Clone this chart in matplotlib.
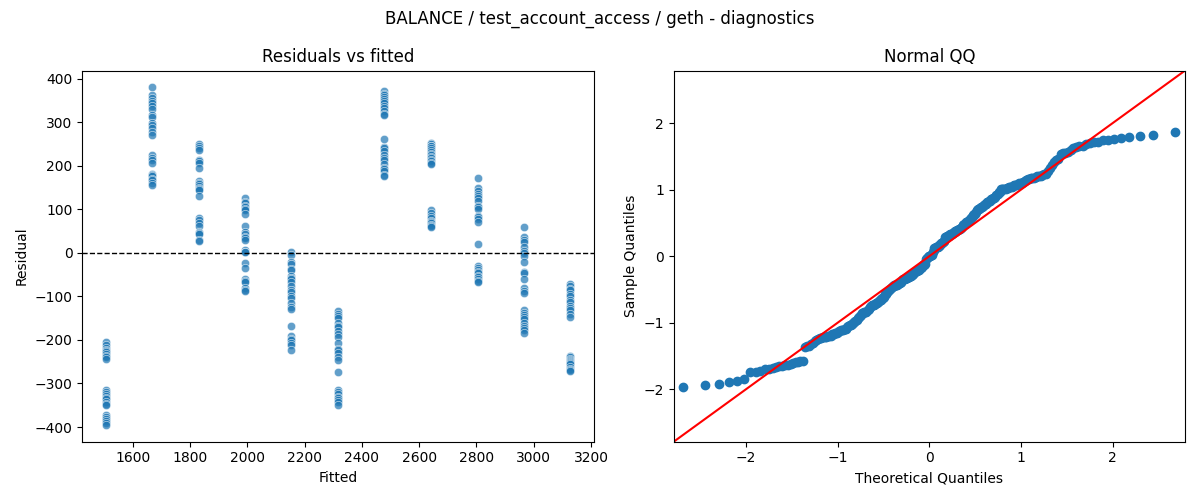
import matplotlib
matplotlib.use("Agg")
import matplotlib.pyplot as plt
import seaborn as sns
import numpy as np
import pandas as pd
from statistics import NormalDist

title = "BALANCE / test_account_access / geth - diagnostics"

# fitted value of each group (one per column in the residual plot)
fitted_levels = [1505, 1667, 1830, 1992, 2154, 2317, 2479, 2641, 2804, 2966, 3128]

# residuals, one list per fitted level
res_1505 = [-205, -212, -218, -222, -226, -228, -232, -236, -240, -243,
            -316, -320, -325, -329, -333, -336, -342, -346, -350,
            -372, -378, -382, -386, -391, -395]
res_1667 = [380, 362, 355, 350, 345, 338, 330, 317, 312, 298, 293, 287, 278, 270,
            224, 218, 213, 207, 182, 178, 176, 170, 167, 160, 156]
res_1830 = [251, 246, 240, 236, 213, 210, 207, 196, 166, 160, 158, 153, 150, 146, 144,
            130, 81, 75, 68, 62, 49, 45, 43, 30, 27]
res_1992 = [127, 118, 114, 108, 106, 101, 98, 89, 62, 48, 43, 36, 34, 30, 7, 3, 2,
            -24, -35, -59, -65, -68, -81, -86, -88]
res_2154 = [1, -5, -21, -26, -36, -40, -53, -57, -60, -66, -76, -85, -90, -98, -104,
            -114, -125, -129, -167, -191, -197, -201, -207, -211, -222]
res_2317 = [-133, -140, -146, -150, -160, -167, -170, -180, -187, -194, -207, -220,
            -224, -231, -240, -246, -273, -316, -320, -323, -330, -333, -338, -342, -350]
res_2479 = [371, 366, 363, 357, 354, 348, 344, 338, 333, 326, 320, 317, 262, 243, 240,
            234, 226, 219, 213, 205, 196, 192, 188, 180, 176]
res_2641 = [252, 250, 246, 245, 240, 236, 232, 228, 224, 220, 219, 214, 210, 207, 205,
            98, 92, 85, 80, 74, 70, 68, 65, 62, 60]
res_2804 = [171, 148, 142, 135, 130, 125, 120, 108, 106, 100, 85, 82, 78, 72, 21,
            -31, -35, -40, -43, -47, -52, -55, -60, -64, -68]
res_2966 = [59, 37, 30, 26, 14, 5, -1, -8, -22, -43, -47, -60, -81, -87, -91,
            -132, -138, -142, -148, -152, -161, -167, -172, -178, -184]
res_3128 = [-72, -76, -83, -86, -94, -100, -108, -113, -121, -126, -132, -140, -147,
            -236, -240, -243, -245, -248, -250, -252, -256, -262, -266, -270, -272]

groups = [res_1505, res_1667, res_1830, res_1992, res_2154, res_2317,
          res_2479, res_2641, res_2804, res_2966, res_3128]

df = pd.DataFrame({
    "fitted": np.repeat(fitted_levels, [len(g) for g in groups]),
    "resid": np.concatenate(groups),
})

fig, (ax1, ax2) = plt.subplots(1, 2, figsize=(12, 5), dpi=100)

# residuals vs fitted
sns.scatterplot(data=df, x="fitted", y="resid", alpha=0.7, ax=ax1)
ax1.axhline(0, color="black", linestyle="--", linewidth=1)
ax1.set_title("Residuals vs fitted")
ax1.set_xlabel("Fitted")
ax1.set_ylabel("Residual")

# normal QQ (standardised residuals against normal quantiles)
r = np.sort(df["resid"].to_numpy(dtype=float))
n = len(r)
sample_q = (r - r.mean()) / r.std()
nd = NormalDist()
theo_q = np.array([nd.inv_cdf(i / (n + 1)) for i in range(1, n + 1)])
ax2.plot(theo_q, sample_q, "o", color="C0", markersize=6)
lim = 2.79
ax2.plot([-lim, lim], [-lim, lim], "r-")
ax2.set_xlim(-lim, lim)
ax2.set_ylim(-lim, lim)
ax2.set_title("Normal QQ")
ax2.set_xlabel("Theoretical Quantiles")
ax2.set_ylabel("Sample Quantiles")

fig.suptitle(title)
fig.tight_layout()
fig.savefig("out.png")
